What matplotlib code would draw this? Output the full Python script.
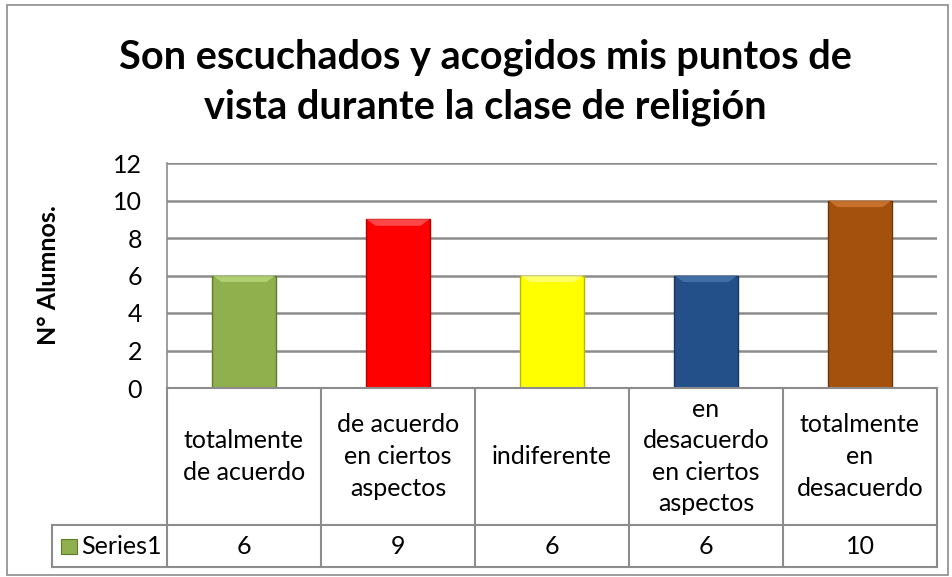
import matplotlib
matplotlib.use("Agg")
import matplotlib.pyplot as plt
from matplotlib.patches import Rectangle, Polygon

plt.rcParams['font.family'] = ['Lato', 'DejaVu Sans']

title = "Son escuchados y acogidos mis puntos de\nvista durante la clase de religión"
ylabel = "N° Alumnos."
categories = ["totalmente\nde acuerdo", "de acuerdo\nen ciertos\naspectos", "indiferente",
              "en\ndesacuerdo\nen ciertos\naspectos", "totalmente\nen\ndesacuerdo"]
values = [6, 9, 6, 6, 10]
series_name = "Series1"
colors = ["#8FB04C", "#FF0000", "#FFFF00", "#24508A", "#A4510E"]
edges = ["#5E7A2C", "#B00000", "#B8B800", "#173560", "#6E360A"]
tops = ["#B9D77A", "#FF5A5A", "#FFFF80", "#4A76AE", "#D07A35"]
yticks = [0, 2, 4, 6, 8, 10, 12]

W, H = 953, 577
fig = plt.figure(figsize=(W / 100, H / 100), dpi=100)

def box(l, t, r, b):
    return [l / W, 1 - b / H, (r - l) / W, (b - t) / H]

# chart border
fig.patches.append(Rectangle((7 / W, 1 - 575 / H), 941 / W, 570 / H, transform=fig.transFigure,
                             fill=False, edgecolor="#8C8C8C", linewidth=1.2))

FS = 18
PL, PR, PT, PB = 167, 937, 163, 388
ax = fig.add_axes(box(PL, PT, PR, PB))
ax.set_xlim(-0.5, len(values) - 0.5)
ax.set_ylim(0, 12)
ax.set_yticks(yticks)
ax.set_yticklabels([str(v) for v in yticks], fontsize=FS)
ax.tick_params(axis='y', length=0, pad=18)
ax.set_xticks([])
for s in ["top", "right", "bottom"]:
    ax.spines[s].set_visible(False)
ax.spines["left"].set_color("#8C8C8C")
ax.spines["left"].set_linewidth(1.2)
ax.grid(axis='y', color="#8C8C8C", linewidth=1.8)
ax.set_axisbelow(True)
ax.set_ylabel(ylabel, fontsize=18, fontweight='bold')
ax.yaxis.set_label_coords(-(PL - 60) / (PR - PL), 0.5)

bw = 0.41
bars = ax.bar(range(len(values)), values, width=bw, color=colors, edgecolor=edges, linewidth=1.0, zorder=3)
for i, (b, v) in enumerate(zip(bars, values)):
    x0 = b.get_x(); x1 = x0 + b.get_width()
    d = 0.06
    dy = 0.35
    ax.add_patch(Polygon([(x0, v), (x1, v), (x1 - d, v - dy), (x0 + d, v - dy)],
                         closed=True, facecolor=tops[i], edgecolor='none', zorder=4, alpha=0.8))

# title
fig.text(485 / W, 1 - 82 / H, title, ha='center', va='center', fontsize=28.5, fontweight='bold',
         linespacing=1.4)

# data table
TL, TT, TB = 52, 388, 567
unit = (PR - PL) / len(values)
tx0 = -0.5 - (PL - TL) / unit
tax = fig.add_axes(box(TL, TT, PR, TB))
tax.set_xlim(tx0, len(values) - 0.5)
tax.set_ylim(TB, TT)
tax.axis('off')
gc = "#8C8C8C"
lw = 1.5
ROW = 525
tax.plot([-0.5, len(values) - 0.5], [TT, TT], color=gc, lw=lw, clip_on=False)
tax.plot([tx0, len(values) - 0.5], [ROW, ROW], color=gc, lw=lw, clip_on=False)
tax.plot([tx0, len(values) - 0.5], [TB, TB], color=gc, lw=lw, clip_on=False)
tax.plot([tx0, tx0], [ROW, TB], color=gc, lw=lw, clip_on=False)
for k in range(len(values) + 1):
    tax.plot([k - 0.5, k - 0.5], [TT, TB], color=gc, lw=lw, clip_on=False)
for i, (c, v) in enumerate(zip(categories, values)):
    tax.text(i, (TT + ROW) / 2, c, ha='center', va='center', fontsize=FS, linespacing=1.45)
    tax.text(i, (ROW + TB) / 2, str(v), ha='center', va='center', fontsize=FS)
tax.add_patch(Rectangle((tx0 + 9 / unit, 554), 16 / unit, -15, facecolor=colors[0],
                        edgecolor=edges[0], lw=0.8, clip_on=False))
tax.text(tx0 + 29 / unit, (ROW + TB) / 2, series_name, ha='left', va='center', fontsize=FS)

fig.savefig("out.png", dpi=100)
